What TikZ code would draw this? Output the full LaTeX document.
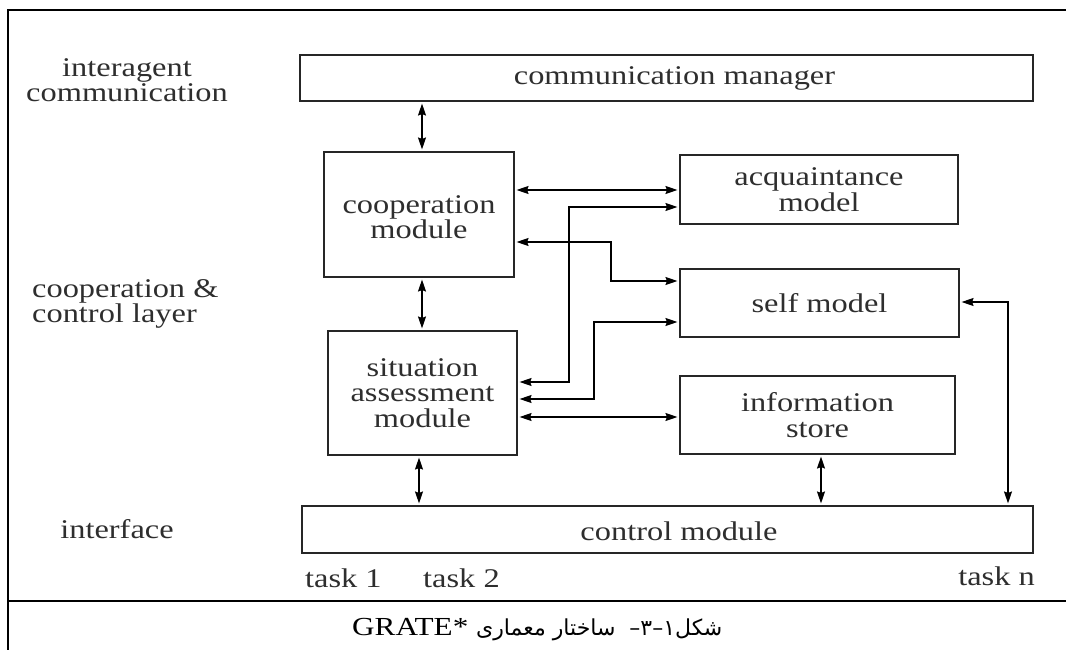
\documentclass[tikz,border=0pt]{standalone}
\usepackage{fontspec}
\setmainfont[FakeStretch=1.2]{Liberation Serif}
\newfontfamily\arabicfont[Script=Arabic]{DejaVu Sans}
\TeXXeTstate=1
\usetikzlibrary{arrows.meta}

\begin{document}
\begin{tikzpicture}[x=1pt,y=-1pt,
  every node/.style={font=\fontsize{27}{25.5}\selectfont, inner sep=0pt, text=black!82},
  box/.style={draw=black!85, line width=1.1pt, align=center},
  lbl/.style={align=center},
  link/.style={line width=1.3pt, <->, shorten <=2pt, shorten >=2pt},
  >={Stealth[length=12pt,width=8pt,inset=1.5pt]},
  frameline/.style={line width=2pt}]

\useasboundingbox (0,0) rectangle (1066,650);

% outer frame and caption rule
\draw[frameline] (8,650) -- (8,10) -- (1066,10);
\draw[frameline] (8,601) -- (1066,601);

% layer labels
\node[lbl] (lint) at (127,80) {interagent\\communication};
\node[lbl, align=left, anchor=west] (lcoop) at (32,304) {cooperation \&\\control layer};
\node[lbl] (lif) at (117,529) {interface};

% modules
\node[box, minimum width=733pt, minimum height=46pt] (comm) at (666.5,78) {};
\node (commtxt) at (674.5,78) {communication manager};
\node[box, minimum width=190pt, minimum height=125pt] (coop) at (419,214.5) {};
\node[align=center] (cooptxt) at (419,217) {cooperation\\module};
\node[box, minimum width=189pt, minimum height=124pt] (sit) at (422.5,393) {situation\\assessment\\module};
\node[box, minimum width=278pt, minimum height=69pt] (acq) at (819,189.5) {acquaintance\\model};
\node[box, minimum width=279pt, minimum height=68pt] (self) at (819.5,303) {self model};
\node[box, minimum width=275pt, minimum height=78pt] (info) at (817.5,415) {information\\store};
\node[box, minimum width=731pt, minimum height=47pt] (ctrl) at (667.5,529.5) {};
\node (ctrltxt) at (679,531) {control module};

% task labels
\node[anchor=base west] (t1) at (305,587) {task 1};
\node[anchor=base west] (t2) at (423,587) {task 2};
\node[anchor=base east] (tn) at (1035,585) {task n};

% vertical links
\draw[link] (comm.south -| 422,0) -- (coop.north -| 422,0);
\draw[link] (coop.south -| 422,0) -- (sit.north -| 422,0);
\draw[link] (sit.south -| 419,0) -- (ctrl.north -| 419,0);
\draw[link] (info.south -| 821,0) -- (ctrl.north -| 821,0);

% horizontal and routed links
\draw[link] (coop.east |- 0,190) -- (acq.west |- 0,190);
\draw[link] (sit.east |- 0,382) -| (569,207) -- (acq.west |- 0,207);
\draw[link] (coop.east |- 0,242) -| (611,281) -- (self.west |- 0,281);
\draw[link] (sit.east |- 0,399) -| (594,322) -- (self.west |- 0,322);
\draw[link] (sit.east |- 0,417) -- (info.west |- 0,417);
\draw[link] (self.east |- 0,302) -| (ctrl.north -| 1008,0);

% caption
\node[anchor=base west, text=black, font=\fontsize{26}{28}\selectfont] (cap) at (352,635)
  {GRATE*\ {\arabicfont\fontsize{22}{24}\selectfont\beginR شکل۱–۳–\ \ ساختار معماری\endR}};
\end{tikzpicture}
\end{document}
